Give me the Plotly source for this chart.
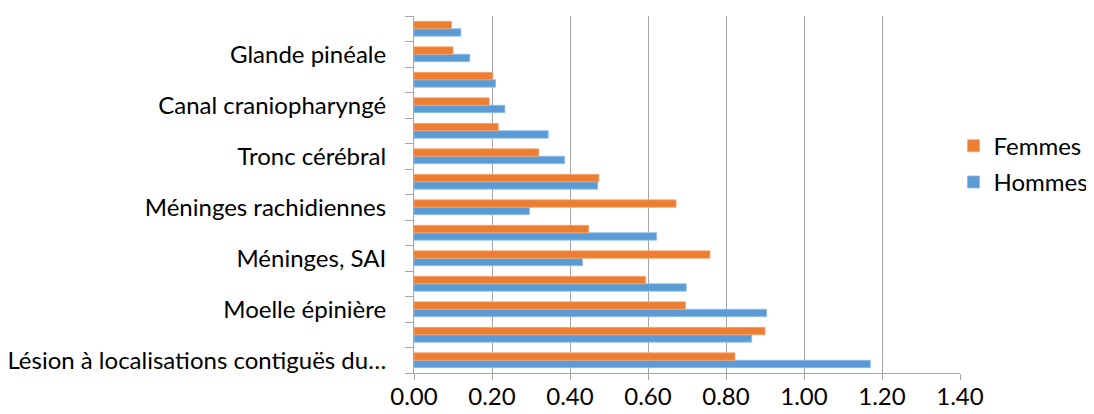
import plotly.graph_objects as go

# categories bottom-to-top; unlabeled categories hidden by the original chart
labels = [
    "Lésion à localisations contiguës du…", "",
    "Moelle épinière", "",
    "Méninges, SAI", "",
    "Méninges rachidiennes", "",
    "Tronc cérébral", "",
    "Canal craniopharyngé", "",
    "Glande pinéale", "",
]
hommes = [1.17, 0.866, 0.904, 0.698, 0.432, 0.622, 0.296, 0.471, 0.386, 0.344, 0.233, 0.209, 0.143, 0.12]
femmes = [0.823, 0.90, 0.696, 0.594, 0.759, 0.448, 0.672, 0.474, 0.32, 0.216, 0.193, 0.202, 0.10, 0.096]
x_ticks = [0.0, 0.2, 0.4, 0.6, 0.8, 1.0, 1.2, 1.4]

pos = list(range(len(labels)))
FONT = "Lato, Carlito, Calibri, sans-serif"
GRID = "#a6a6a6"

fig = go.Figure()
fig.add_trace(go.Bar(y=pos, x=hommes, orientation="h", name="Hommes",
                     marker=dict(color="#5B9BD5", line=dict(color="#8dbbe6", width=0.8)),
                     legendgroup="h", legendrank=2))
fig.add_trace(go.Bar(y=pos, x=femmes, orientation="h", name="Femmes",
                     marker=dict(color="#ED7D31", line=dict(color="#f4a673", width=0.8)),
                     legendgroup="f", legendrank=1))

tv = [i for i, l in enumerate(labels) if l]
fig.update_layout(
    width=1094, height=414,
    margin=dict(l=406, r=142, t=8, b=49, autoexpand=False),
    paper_bgcolor="white", plot_bgcolor="white",
    barmode="group", bargap=0.42, bargroupgap=0,
    font=dict(family=FONT, size=24, color="#000000"),
    legend=dict(x=0.988, y=0.585, xanchor="left", yanchor="middle",
                traceorder="grouped", tracegroupgap=2,
                font=dict(size=24), itemwidth=30, bgcolor="rgba(0,0,0,0)"),
    xaxis=dict(range=[0, 1.4], tickvals=x_ticks, tickformat=".2f",
               showgrid=True, gridcolor=GRID, gridwidth=1,
               showline=True, linecolor=GRID, linewidth=1,
               ticks="outside", ticklen=6, tickcolor=GRID, ticklabelstandoff=-4,
               zeroline=False, tickfont=dict(size=24)),
    yaxis=dict(range=[-0.5, len(labels) - 0.5], tickvals=tv,
               ticktext=[labels[i] for i in tv],
               ticks="", ticklabelstandoff=22,
               showline=True, linecolor=GRID, linewidth=1,
               showgrid=False, zeroline=False, tickfont=dict(size=24),
               minor=dict(tickmode="linear", tick0=0.5, dtick=1,
                          ticks="outside", ticklen=8, tickcolor=GRID, showgrid=False)),
)

fig.write_html("out.html")
